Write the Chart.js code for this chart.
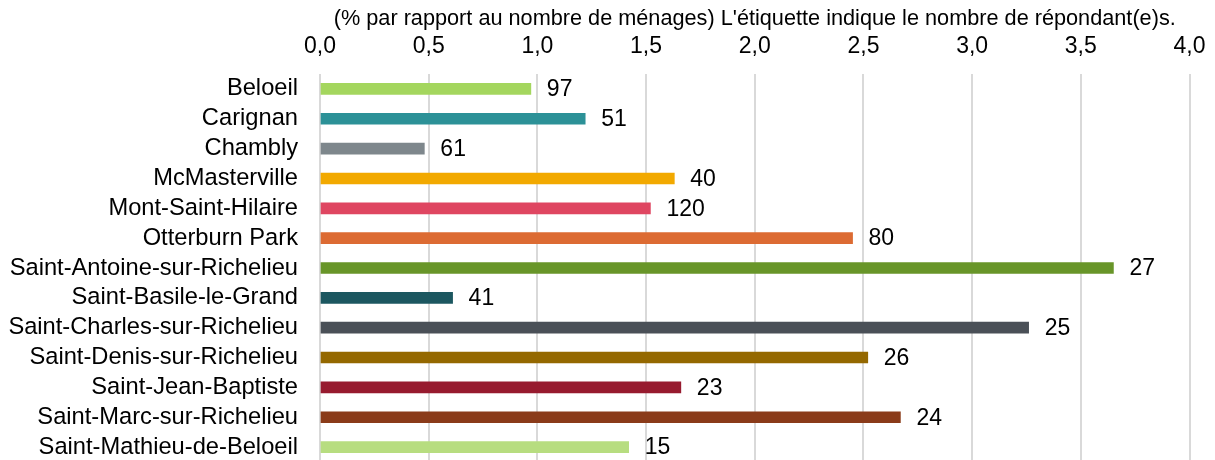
<!DOCTYPE html>
<html lang="fr">
<head>
<meta charset="utf-8">
<script src="https://cdn.jsdelivr.net/npm/chart.js@4"></script>
<style>
  html, body { margin: 0; padding: 0; background: #fff; overflow: hidden; }
  canvas { display: block; }
</style>
</head>
<body>
<canvas id="menages" width="1215" height="462"></canvas>
<script>
const municipalites = [
    "Beloeil", "Carignan", "Chambly", "McMasterville", "Mont-Saint-Hilaire",
    "Otterburn Park", "Saint-Antoine-sur-Richelieu", "Saint-Basile-le-Grand",
    "Saint-Charles-sur-Richelieu", "Saint-Denis-sur-Richelieu",
    "Saint-Jean-Baptiste", "Saint-Marc-sur-Richelieu", "Saint-Mathieu-de-Beloeil"
];
// % par rapport au nombre de ménages
const pourcentages = [0.97, 1.22, 0.48, 1.63, 1.52, 2.45, 3.65, 0.61, 3.26, 2.52, 1.66, 2.67, 1.42];
// nombre de répondant(e)s affiché au bout de chaque barre
const repondants = [97, 51, 61, 40, 120, 80, 27, 41, 25, 26, 23, 24, 15];
const couleurs = [
    "#A4D65E", "#2C9197", "#7E878C", "#F2A900", "#DF4661", "#DC6B33", "#689529",
    "#1C5760", "#4A5057", "#946800", "#971B2F", "#8A3B19", "#B7DD80"
];
const titreAxe = "(% par rapport au nombre de ménages) L'étiquette indique le nombre de répondant(e)s.";

const police = "'Liberation Sans', Arial, sans-serif";

// petites étiquettes à droite des barres
const etiquettes = {
    id: "etiquettes",
    afterDatasetsDraw(chart) {
        const ctx = chart.ctx;
        const meta = chart.getDatasetMeta(0);
        ctx.save();
        ctx.font = "23px " + police;
        ctx.fillStyle = "#000";
        ctx.textAlign = "left";
        ctx.textBaseline = "middle";
        meta.data.forEach((bar, i) => {
            ctx.fillText(String(repondants[i]), bar.x + 16, bar.y + 1);
        });
        ctx.restore();
    }
};

new Chart(document.getElementById("menages"), {
    type: "bar",
    data: {
        labels: municipalites,
        datasets: [{
            data: pourcentages,
            backgroundColor: couleurs,
            borderWidth: 0,
            barThickness: 11
        }]
    },
    options: {
        indexAxis: "y",
        responsive: false,
        animation: false,
        devicePixelRatio: 1,
        layout: { padding: 0 },
        plugins: {
            legend: { display: false },
            tooltip: { enabled: false }
        },
        scales: {
            x: {
                position: "top",
                min: 0,
                max: 4,
                afterFit(scale) {
                    scale.height = 74;
                    scale.paddingLeft = 0;
                    scale.paddingRight = 25.5;
                },
                ticks: {
                    stepSize: 0.5,
                    padding: 14,
                    color: "#000",
                    font: { family: police, size: 23 },
                    callback: v => v.toFixed(1).replace(".", ",")
                },
                grid: { color: "#D9D9D9", lineWidth: 2, drawTicks: false },
                border: { display: false },
                title: {
                    display: true,
                    text: titreAxe,
                    color: "#000",
                    font: { family: police, size: 21.7 },
                    padding: { top: 6, bottom: 0 }
                }
            },
            y: {
                afterFit(scale) {
                    scale.width = 320;
                    // les barres occupent toute la hauteur jusqu'en bas
                    scale.paddingTop = 0;
                    scale.paddingBottom = 0;
                },
                ticks: {
                    padding: 22,
                    color: "#000",
                    font: { family: police, size: 23.7 },
                    autoSkip: false
                },
                grid: { display: false, drawTicks: false },
                border: { display: false }
            }
        }
    },
    plugins: [etiquettes]
});
</script>
</body>
</html>
